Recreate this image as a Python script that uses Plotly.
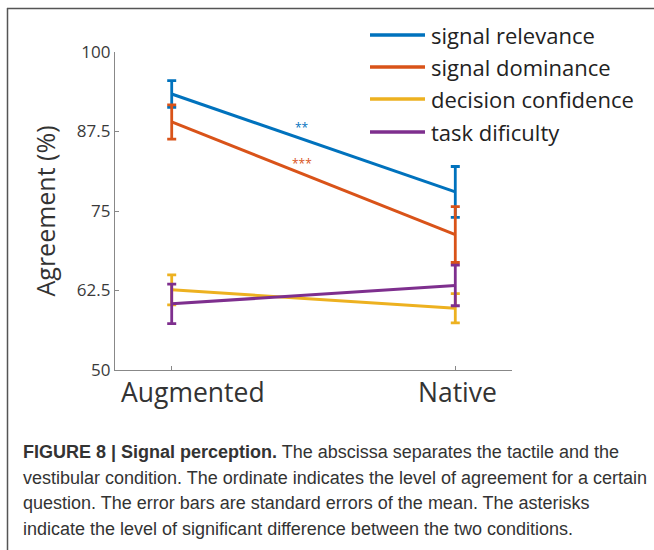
import plotly.graph_objects as go

# ---------------- data ----------------
categories = ["Augmented", "Native"]
series_names = ["signal relevance", "signal dominance", "decision confidence", "task dificulty"]
relevance_mean = [93.4, 78.0]
relevance_err = [2.1, 4.0]
dominance_mean = [89.0, 71.3]
dominance_err = [2.7, 4.4]
confidence_mean = [62.6, 59.7]
confidence_err = [2.35, 2.3]
difficulty_mean = [60.4, 63.3]
difficulty_err = [3.1, 3.2]
y_ticks = [50, 62.5, 75, 87.5, 100]
y_tick_labels = ["50", "62.5", "75", "87.5", "100"]
sig_labels = ["**", "***"]
sig_y = [88.1, 82.4]
caption_lines = [
    "<b>FIGURE 8 | Signal perception.</b> The abscissa separates the tactile and the",
    "vestibular condition. The ordinate indicates the level of agreement for a certain",
    "question. The error bars are standard errors of the mean. The asterisks",
    "indicate the level of significant difference between the two conditions.",
]

means = [relevance_mean, dominance_mean, confidence_mean, difficulty_mean]
errs = [relevance_err, dominance_err, confidence_err, difficulty_err]
colors = ["#0072BD", "#D95319", "#EDB120", "#7E2F8E"]

# ---------------- layout geometry (pixels) ----------------
W, H = 654, 550
L, R, T, B = 115, 512, 52, 370
PW, PH = R - L, B - T


def px(x):
    return (x - L) / PW


def py(y):
    return (B - y) / PH


FONT = "Open Sans, Noto Sans, sans-serif"
CAP_FONT = "Liberation Sans, Arial, sans-serif"

fig = go.Figure()
for name, m, e, c in zip(series_names, means, errs, colors):
    fig.add_trace(go.Scatter(
        x=categories, y=m, name=name, mode="lines",
        line=dict(color=c, width=3),
        error_y=dict(type="data", array=e, visible=True, color=c, thickness=2.8, width=4.5),
        showlegend=False,
    ))

shapes = []
annotations = []

# custom legend
leg_y = [35, 67, 99, 132]
for name, c, yy in zip(series_names, colors, leg_y):
    shapes.append(dict(type="line", xref="paper", yref="paper",
                       x0=px(370), x1=px(425), y0=py(yy), y1=py(yy),
                       line=dict(color=c, width=3.5)))
    annotations.append(dict(xref="paper", yref="paper", x=px(429), y=py(yy),
                            xanchor="left", yanchor="middle", text=name, showarrow=False,
                            font=dict(family=FONT, size=22, color="#222222")))

# x category labels
x_shifts = [21, 2]
for cat, s in zip(categories, x_shifts):
    annotations.append(dict(xref="x", yref="paper", x=cat, y=py(392), xshift=s,
                            xanchor="center", yanchor="middle", text=cat, showarrow=False,
                            font=dict(family=FONT, size=26.5, color="#333333")))

# significance asterisks
for lab, yy, c in zip(sig_labels, sig_y, colors[:2]):
    annotations.append(dict(xref="x", yref="y", x=0.46, y=yy, text=lab, showarrow=False,
                            xanchor="center", yanchor="middle",
                            font=dict(family=FONT, size=12, color=c)))

# caption
cap_y = [452, 478, 503, 529]
for line, yy in zip(caption_lines, cap_y):
    annotations.append(dict(xref="paper", yref="paper", x=px(21), y=py(yy),
                            xanchor="left", yanchor="middle", text=line, showarrow=False,
                            font=dict(family=CAP_FONT, size=18, color="#333333")))

# figure frame (left and top edges)
shapes.append(dict(type="line", xref="paper", yref="paper", x0=px(7.5), x1=px(7.5),
                   y0=py(8), y1=py(560), line=dict(color="#555555", width=1.5)))
shapes.append(dict(type="line", xref="paper", yref="paper", x0=px(7), x1=px(660),
                   y0=py(8.5), y1=py(8.5), line=dict(color="#555555", width=1.5)))

fig.update_layout(
    width=W, height=H, autosize=False,
    margin=dict(l=L, r=W - R, t=T, b=H - B, pad=0),
    plot_bgcolor="white", paper_bgcolor="white",
    shapes=shapes, annotations=annotations,
    xaxis=dict(range=[-0.2, 1.2], type="category", showgrid=False, zeroline=False,
               showline=True, linecolor="#888888", linewidth=1.3,
               ticks="inside", ticklen=4, tickcolor="#888888", showticklabels=False),
    yaxis=dict(range=[50, 100], tickvals=y_ticks, ticktext=y_tick_labels,
               showgrid=False, zeroline=False, showline=True, linecolor="#888888",
               linewidth=1.3, ticks="inside", ticklen=4, tickcolor="#888888",
               tickfont=dict(family=FONT, size=17, color="#3a3a3a"),
               title=dict(text="Agreement (%)", standoff=14,
                          font=dict(family=FONT, size=25, color="#333333"))),
)

fig.write_html("out.html")
